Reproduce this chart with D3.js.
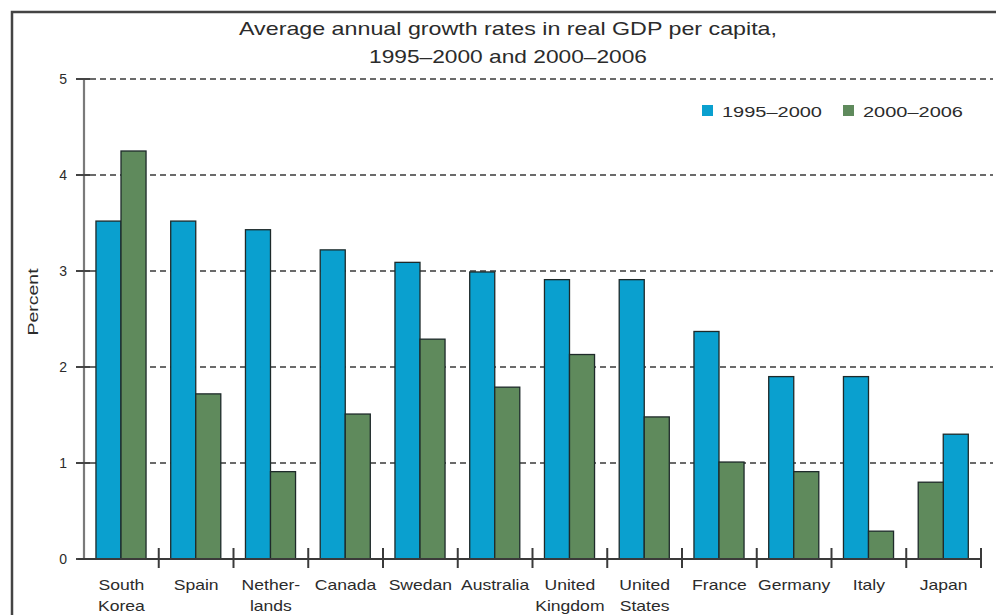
<!DOCTYPE html>
<html>
<head>
<meta charset="utf-8">
<script src="https://cdn.jsdelivr.net/npm/d3@7"></script>
<style>
  body { margin: 0; background: #fff; }
  text { font-family: "Liberation Sans", Arial, sans-serif; fill: #2b2b2b; }
</style>
</head>
<body>
<div id="chart"></div>
<script>
// data
const categories = ["South Korea", "Spain", "Netherlands", "Canada", "Swedan", "Australia",
                    "United Kingdom", "United States", "France", "Germany", "Italy", "Japan"];
const categoryLines = [["South", "Korea"], ["Spain"], ["Nether-", "lands"], ["Canada"], ["Swedan"],
                       ["Australia"], ["United", "Kingdom"], ["United", "States"], ["France"],
                       ["Germany"], ["Italy"], ["Japan"]];
const series = ["1995–2000", "2000–2006"];
const values1995 = [3.52, 3.52, 3.43, 3.22, 3.09, 2.99, 2.91, 2.91, 2.37, 1.90, 1.90, 1.30];
const values2000 = [4.25, 1.72, 0.91, 1.51, 2.29, 1.79, 2.13, 1.48, 1.01, 0.91, 0.29, 0.80];
const reversedOrder = ["Japan"]; // Japan shows the later period first
const yTicks = [0, 1, 2, 3, 4, 5];
const colors = ["#0aa0cf", "#5f8a5c"];

const W = 996, H = 615;
const svg = d3.select("#chart").append("svg")
    .attr("width", W)
    .attr("height", H);

// stretch a text so that it is k times wider than it renders (source art is wide)
function stretch(sel, k, target) {
    sel.each(function() {
        const len = this.getComputedTextLength();
        d3.select(this)
            .attr("textLength", target || len * k)
            .attr("lengthAdjust", "spacingAndGlyphs");
    });
}

// frame, left and top edges
svg.append("path")
    .attr("d", `M12,${H} V12 H${W}`)
    .attr("fill", "none")
    .attr("stroke", "#444")
    .attr("stroke-width", 2.5);

const x0 = d3.scaleBand()
    .domain(categories)
    .range([84, 981]);

const bw = x0.bandwidth();
const x1 = d3.scaleBand()
    .domain(series)
    .range([bw * 0.16, bw * 0.83]);

const y = d3.scaleLinear()
    .domain([0, 5])
    .range([559, 79]);

// title
const title = svg.append("g").attr("class", "title");
title.append("text")
    .attr("x", 508).attr("y", 35)
    .attr("text-anchor", "middle")
    .style("font-size", "19px")
    .text("Average annual growth rates in real GDP per capita,")
    .call(stretch, 1, 538);
title.append("text")
    .attr("x", 508).attr("y", 63)
    .attr("text-anchor", "middle")
    .style("font-size", "19px")
    .text("1995–2000 and 2000–2006")
    .call(stretch, 1, 278);

// dashed grid lines, under the bars
svg.append("g")
    .selectAll("line")
    .data(yTicks.filter(d => d > 0))
    .join("line")
    .attr("x1", 90).attr("x2", 993)
    .attr("y1", d => y(d)).attr("y2", d => y(d))
    .attr("stroke", "#6a6a6a")
    .attr("stroke-width", 2)
    .attr("stroke-dasharray", "6,4");

// bars
const rows = categories.map((c, i) => ({ cat: c, vals: [values1995[i], values2000[i]] }));
const groups = svg.append("g")
    .selectAll("g")
    .data(rows)
    .join("g")
    .attr("transform", d => `translate(${x0(d.cat)},0)`);

groups.selectAll("rect")
    .data(d => series.map((s, j) => ({ s, j, v: d.vals[j], rev: reversedOrder.includes(d.cat) })))
    .join("rect")
    .attr("x", d => d.rev ? x1(series[1 - d.j]) : x1(d.s))
    .attr("width", x1.bandwidth())
    .attr("y", d => y(d.v))
    .attr("height", d => y(0) - y(d.v))
    .attr("fill", d => colors[d.j])
    .attr("stroke", "#1e2a2a")
    .attr("stroke-width", 1.3);

// y axis
const yAxis = svg.append("g").attr("class", "y-axis");
yAxis.append("line")
    .attr("x1", 84).attr("x2", 84)
    .attr("y1", y(5)).attr("y2", y(0))
    .attr("stroke", "#7a7a7a")
    .attr("stroke-width", 2.2);
yAxis.selectAll("line.tick")
    .data(yTicks)
    .join("line")
    .attr("class", "tick")
    .attr("x1", 76).attr("x2", 90)
    .attr("y1", d => y(d)).attr("y2", d => y(d))
    .attr("stroke", "#444")
    .attr("stroke-width", 2);
yAxis.selectAll("text")
    .data(yTicks)
    .join("text")
    .attr("x", 67)
    .attr("y", d => y(d) + 5)
    .attr("text-anchor", "end")
    .style("font-size", "14px")
    .text(d => d);

svg.append("text")
    .attr("transform", "translate(38,302) rotate(-90)")
    .attr("text-anchor", "middle")
    .style("font-size", "15px")
    .text("Percent")
    .call(stretch, 1.3);

// x axis
const xAxis = svg.append("g").attr("class", "x-axis");
xAxis.append("line")
    .attr("x1", 78).attr("x2", 981)
    .attr("y1", y(0)).attr("y2", y(0))
    .attr("stroke", "#3a3a3a")
    .attr("stroke-width", 2.2);
xAxis.selectAll("line.tick")
    .data(categories)
    .join("line")
    .attr("class", "tick")
    .attr("x1", d => x0(d) + bw).attr("x2", d => x0(d) + bw)
    .attr("y1", y(0) - 11).attr("y2", y(0) + 9)
    .attr("stroke", "#3a3a3a")
    .attr("stroke-width", 2);

const xLabels = xAxis.selectAll("text")
    .data(categories)
    .join("text")
    .attr("text-anchor", "middle")
    .style("font-size", "15px");
xLabels.each(function(d, i) {
    d3.select(this).selectAll("tspan")
        .data(categoryLines[i])
        .join("tspan")
        .attr("x", x0(d) + bw / 2)
        .attr("y", (t, k) => 590 + k * 21)
        .text(t => t)
        .call(stretch, 1.17);
});

// legend
const legend = svg.append("g").attr("class", "legend");
const legendX = [702, 843];
legend.selectAll("rect")
    .data(series)
    .join("rect")
    .attr("x", (d, i) => legendX[i])
    .attr("y", 105)
    .attr("width", 11).attr("height", 11)
    .attr("fill", (d, i) => colors[i]);
legend.selectAll("text")
    .data(series)
    .join("text")
    .attr("x", (d, i) => legendX[i] + 20)
    .attr("y", 117)
    .style("font-size", "15px")
    .text(d => d)
    .call(stretch, 1, 100);
</script>
</body>
</html>
